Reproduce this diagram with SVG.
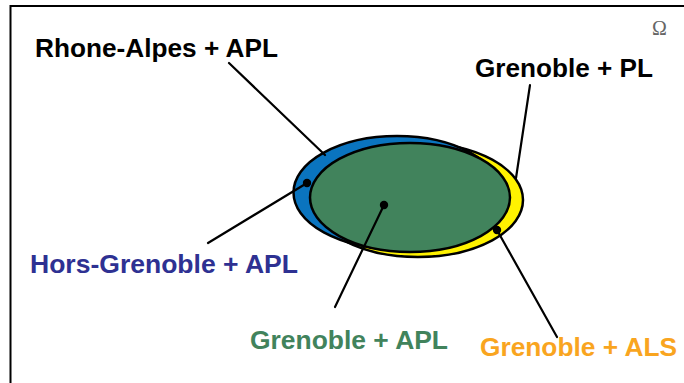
<svg xmlns="http://www.w3.org/2000/svg" width="684" height="383" viewBox="0 0 684 383">
<style>
.lbl{font-family:"Liberation Sans",Arial,sans-serif;font-weight:bold;font-size:26px}
.set{stroke:#000;stroke-width:2.5}
.conn line{stroke:#000;stroke-width:2.2;stroke-linecap:round}
.dot{fill:#000}
</style>
<rect x="10.5" y="6" width="700" height="400" fill="#fff" stroke="#000" stroke-width="2"/>
<text x="652" y="35" font-family="Liberation Serif,serif" font-size="20" fill="#666">Ω</text>
<g id="sets">
<ellipse id="yellow" class="set" cx="418" cy="200" rx="105" ry="57" fill="#FFF200"/>
<ellipse id="blue" class="set" cx="397" cy="192.5" rx="103.5" ry="56.5" fill="#0A74BF"/>
<ellipse id="green" class="set" cx="410" cy="197.5" rx="100" ry="54.5" fill="#41835C"/>
</g>
<g class="conn" id="connectors">
<line x1="229" y1="63" x2="325" y2="155"/>
<line x1="530" y1="85" x2="516" y2="178"/>
<line x1="208" y1="243" x2="307" y2="183"/>
<line x1="384" y1="205" x2="335" y2="307"/>
<line x1="497" y1="230" x2="557" y2="337"/>
<circle class="dot" cx="307" cy="183" r="4.2"/>
<circle class="dot" cx="384" cy="205" r="4.2"/>
<circle class="dot" cx="497" cy="230" r="4.2"/>
</g>
<g id="lbl-rhone"><text class="lbl" x="35" y="56.5" fill="#000" textLength="243" lengthAdjust="spacingAndGlyphs">Rhone-Alpes + APL</text></g>
<g id="lbl-gpl"><text class="lbl" x="475" y="77" fill="#000" textLength="178" lengthAdjust="spacingAndGlyphs">Grenoble + PL</text></g>
<g id="lbl-hors"><text class="lbl" x="30" y="273" fill="#2E3192" textLength="268" lengthAdjust="spacingAndGlyphs">Hors-Grenoble + APL</text></g>
<g id="lbl-gapl"><text class="lbl" x="250" y="349" fill="#41835C" textLength="198" lengthAdjust="spacingAndGlyphs">Grenoble + APL</text></g>
<g id="lbl-gals"><text class="lbl" x="480" y="356" fill="#F9A51F" textLength="197" lengthAdjust="spacingAndGlyphs">Grenoble + ALS</text></g>
</svg>
